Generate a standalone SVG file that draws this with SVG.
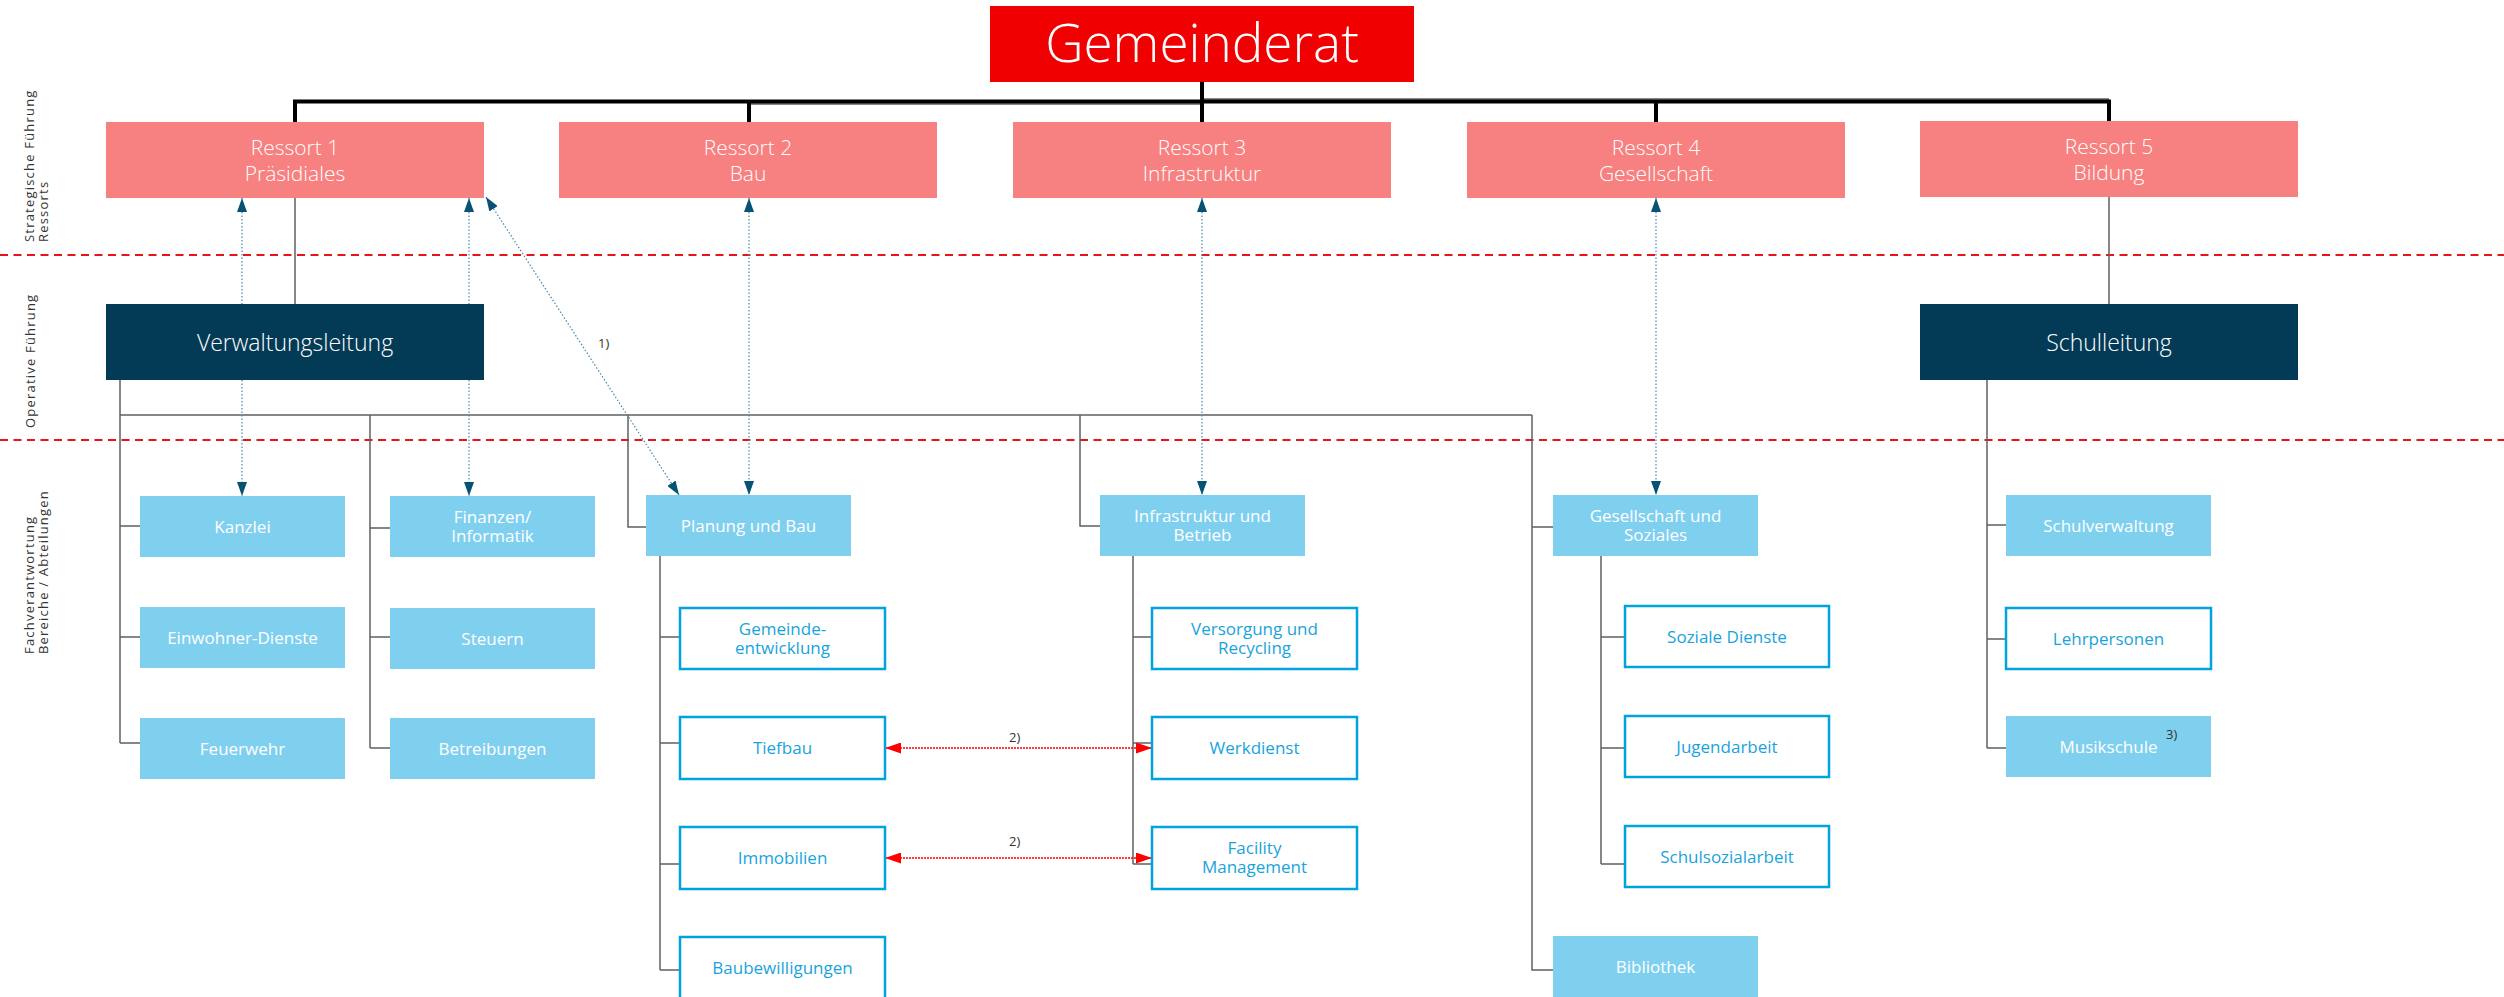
<svg xmlns="http://www.w3.org/2000/svg" width="2504" height="997" viewBox="0 0 2504 997">
<defs>
<style>
text{font-family:"Open Sans","Liberation Sans",sans-serif}
.ress{fill:#f78080}
.navy{fill:#033b57}
.fill{fill:#7fd0ef}
.out{fill:#ffffff;stroke:#00a3e0;stroke-width:2.5}
.tw{fill:#ffffff;text-anchor:middle;font-size:17px}
.tb{fill:#19a3dc;text-anchor:middle;font-size:17px}
.big{fill:#ffffff;text-anchor:middle;font-size:21px;font-weight:300}
.lead{fill:#ffffff;text-anchor:middle;font-size:23px;font-weight:300}
.side{fill:#333333;font-size:13px;letter-spacing:1.2px}
.note{fill:#333333;font-size:13px}
.con{fill:none;stroke:#606060;stroke-width:1.5}
.bus{fill:none;stroke:#000000;stroke-width:4}
.sep{stroke:#e8141c;stroke-width:2;stroke-dasharray:8 5.5}
.ba{fill:none;stroke:#4a86aa;stroke-width:1.2;stroke-dasharray:1.5 2;marker-start:url(#ah);marker-end:url(#ah)}
.ra{fill:none;stroke:#ff0000;stroke-width:1.5;stroke-dasharray:2 1;marker-start:url(#rh);marker-end:url(#rh)}
</style>
<marker id="ah" viewBox="0 0 14 10" refX="14" refY="5" markerWidth="14" markerHeight="10" markerUnits="userSpaceOnUse" orient="auto-start-reverse">
<path d="M0,0 L14,5 L0,10 Z" fill="#065274"/>
</marker>
<marker id="rh" viewBox="0 0 16 11" refX="16" refY="5.5" markerWidth="16" markerHeight="11" markerUnits="userSpaceOnUse" orient="auto-start-reverse">
<path d="M0,0 L16,5.5 L0,11 Z" fill="#ff0000"/>
</marker>
</defs>
<rect width="2504" height="997" fill="#ffffff"/>

<g id="separators">
<line class="sep" x1="0" y1="255" x2="2504" y2="255"/>
<line class="sep" x1="0" y1="440" x2="2504" y2="440"/>
</g>

<g id="side-labels">
<text class="side" transform="translate(34,242) rotate(-90)">Strategische Führung</text>
<text class="side" transform="translate(48,242) rotate(-90)">Ressorts</text>
<text class="side" transform="translate(35,428) rotate(-90)">Operative Führung</text>
<text class="side" transform="translate(34,654) rotate(-90)">Fachverantwortung</text>
<text class="side" transform="translate(48,654) rotate(-90)">Bereiche / Abteilungen</text>
</g>

<g id="connectors">
<path class="con" d="M749,104 H1202 M1202,99 H2109"/>
<path class="bus" d="M295,122 V101.5 H2109 V121 M749,101.5 V122 M1202,82 V122 M1656,101.5 V122"/>
<path class="con" d="M295,198 V304 M2109,197 V304"/>
<path class="con" d="M120,380 V743 M120,415 H1532 M120,526 H140 M120,637 H140 M120,743 H140"/>
<path class="con" d="M370,415 V748 M370,528 H390 M370,637 H390 M370,748 H390"/>
<path class="con" d="M628,415 V527 H646"/>
<path class="con" d="M660,556 V970 M660,637 H680 M660,743 H680 M660,864 H680 M660,970 H680"/>
<path class="con" d="M1080,415 V526 H1100"/>
<path class="con" d="M1133,556 V864 M1133,637 H1152 M1133,743 H1152 M1133,864 H1152"/>
<path class="con" d="M1532,415 V970 H1553 M1532,527 H1553"/>
<path class="con" d="M1601,556 V864 M1601,637 H1625 M1601,748 H1625 M1601,864 H1625"/>
<path class="con" d="M1987,380 V748 M1987,525 H2006 M1987,639 H2006 M1987,748 H2006"/>
<line class="ba" x1="242" y1="198" x2="242" y2="496"/>
<line class="ba" x1="469" y1="198" x2="469" y2="496"/>
<line class="ba" x1="486" y1="197" x2="679" y2="495"/>
<line class="ba" x1="749" y1="198" x2="749" y2="495"/>
<line class="ba" x1="1202" y1="198" x2="1202" y2="495"/>
<line class="ba" x1="1656" y1="198" x2="1656" y2="495"/>
<line class="ra" x1="885" y1="748" x2="1152" y2="748"/>
<line class="ra" x1="885" y1="858" x2="1152" y2="858"/>
<text class="note" x="598" y="348">1)</text>
<text class="note" x="1009" y="742">2)</text>
<text class="note" x="1009" y="846">2)</text>
</g>

<g id="gemeinderat">
<rect x="990" y="6" width="424" height="76" fill="#f00000"/>
<text x="1202" y="62" fill="#ffffff" text-anchor="middle" font-size="53" font-weight="300">Gemeinderat</text>
</g>

<g id="ressort1"><rect class="ress" x="106" y="122" width="378" height="76"/><text class="big" x="295" y="155">Ressort 1</text><text class="big" x="295" y="181">Präsidiales</text></g>
<g id="ressort2"><rect class="ress" x="559" y="122" width="378" height="76"/><text class="big" x="748" y="155">Ressort 2</text><text class="big" x="748" y="181">Bau</text></g>
<g id="ressort3"><rect class="ress" x="1013" y="122" width="378" height="76"/><text class="big" x="1202" y="155">Ressort 3</text><text class="big" x="1202" y="181">Infrastruktur</text></g>
<g id="ressort4"><rect class="ress" x="1467" y="122" width="378" height="76"/><text class="big" x="1656" y="155">Ressort 4</text><text class="big" x="1656" y="181">Gesellschaft</text></g>
<g id="ressort5"><rect class="ress" x="1920" y="121" width="378" height="76"/><text class="big" x="2109" y="154">Ressort 5</text><text class="big" x="2109" y="180">Bildung</text></g>

<g id="verwaltungsleitung"><rect class="navy" x="106" y="304" width="378" height="76"/><text class="lead" x="295" y="351">Verwaltungsleitung</text></g>
<g id="schulleitung"><rect class="navy" x="1920" y="304" width="378" height="76"/><text class="lead" x="2109" y="351">Schulleitung</text></g>

<g id="kanzlei"><rect class="fill" x="140" y="496" width="205" height="61"/><text class="tw" x="242.5" y="532.5">Kanzlei</text></g>
<g id="einwohner"><rect class="fill" x="140" y="607" width="205" height="61"/><text class="tw" x="242.5" y="643.5">Einwohner-Dienste</text></g>
<g id="feuerwehr"><rect class="fill" x="140" y="718" width="205" height="61"/><text class="tw" x="242.5" y="754.5">Feuerwehr</text></g>
<g id="finanzen"><rect class="fill" x="390" y="496" width="205" height="61"/><text class="tw" x="492.5" y="523">Finanzen/</text><text class="tw" x="492.5" y="542">Informatik</text></g>
<g id="steuern"><rect class="fill" x="390" y="608" width="205" height="61"/><text class="tw" x="492.5" y="644.5">Steuern</text></g>
<g id="betreibungen"><rect class="fill" x="390" y="718" width="205" height="61"/><text class="tw" x="492.5" y="754.5">Betreibungen</text></g>
<g id="planung"><rect class="fill" x="646" y="495" width="205" height="61"/><text class="tw" x="748.5" y="531.5">Planung und Bau</text></g>
<g id="gemeindeentwicklung"><rect class="out" x="680" y="608" width="205" height="61"/><text class="tb" x="782.5" y="635">Gemeinde-</text><text class="tb" x="782.5" y="654">entwicklung</text></g>
<g id="tiefbau"><rect class="out" x="680" y="717" width="205" height="62"/><text class="tb" x="782.5" y="754">Tiefbau</text></g>
<g id="immobilien"><rect class="out" x="680" y="827" width="205" height="62"/><text class="tb" x="782.5" y="864">Immobilien</text></g>
<g id="baubewilligungen"><rect class="out" x="680" y="937" width="205" height="62"/><text class="tb" x="782.5" y="974">Baubewilligungen</text></g>
<g id="infrastruktur"><rect class="fill" x="1100" y="495" width="205" height="61"/><text class="tw" x="1202.5" y="522">Infrastruktur und</text><text class="tw" x="1202.5" y="541">Betrieb</text></g>
<g id="versorgung"><rect class="out" x="1152" y="608" width="205" height="61"/><text class="tb" x="1254.5" y="635">Versorgung und</text><text class="tb" x="1254.5" y="654">Recycling</text></g>
<g id="werkdienst"><rect class="out" x="1152" y="717" width="205" height="62"/><text class="tb" x="1254.5" y="754">Werkdienst</text></g>
<g id="facility"><rect class="out" x="1152" y="827" width="205" height="62"/><text class="tb" x="1254.5" y="854">Facility</text><text class="tb" x="1254.5" y="873">Management</text></g>
<g id="gesellschaft"><rect class="fill" x="1553" y="495" width="205" height="61"/><text class="tw" x="1655.5" y="522">Gesellschaft und</text><text class="tw" x="1655.5" y="541">Soziales</text></g>
<g id="soziale-dienste"><rect class="out" x="1625" y="606" width="204" height="61"/><text class="tb" x="1727" y="642.5">Soziale Dienste</text></g>
<g id="jugendarbeit"><rect class="out" x="1625" y="716" width="204" height="61"/><text class="tb" x="1727" y="752.5">Jugendarbeit</text></g>
<g id="schulsozialarbeit"><rect class="out" x="1625" y="826" width="204" height="61"/><text class="tb" x="1727" y="862.5">Schulsozialarbeit</text></g>
<g id="bibliothek"><rect class="fill" x="1553" y="936" width="205" height="62"/><text class="tw" x="1655.5" y="972.5">Bibliothek</text></g>
<g id="schulverwaltung"><rect class="fill" x="2006" y="495" width="205" height="61"/><text class="tw" x="2108.5" y="531.5">Schulverwaltung</text></g>
<g id="lehrpersonen"><rect class="out" x="2006" y="608" width="205" height="61"/><text class="tb" x="2108.5" y="644.5">Lehrpersonen</text></g>
<g id="musikschule"><rect class="fill" x="2006" y="716" width="205" height="61"/><text class="tw" x="2108.5" y="752.5">Musikschule</text><text class="note" x="2166" y="739">3)</text></g>
</svg>
